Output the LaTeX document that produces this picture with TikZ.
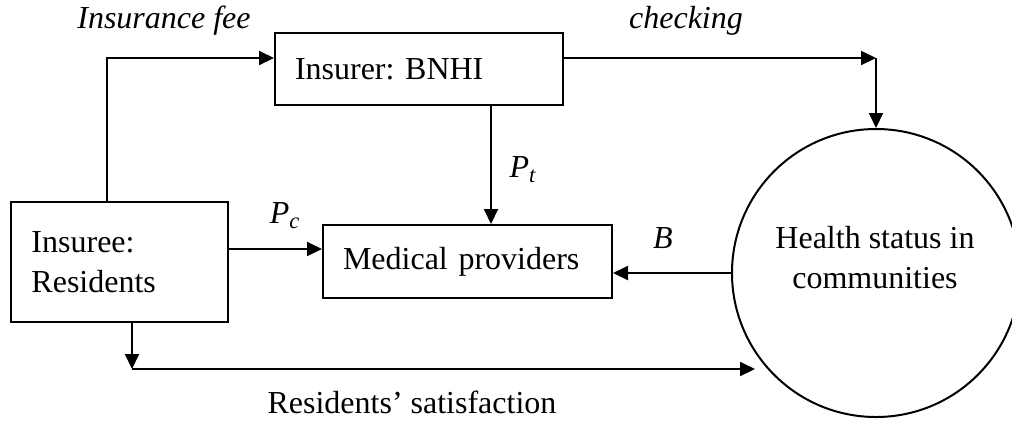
\documentclass[tikz,border=0pt]{standalone}
\usepackage{fontspec}
\setmainfont{Liberation Serif}
\usetikzlibrary{arrows.meta}
\begin{document}
\frenchspacing
\begin{tikzpicture}[x=0.5pt,y=-0.5pt,
  every node/.style={font=\fontsize{16}{20}\selectfont},
  box/.style={draw, line width=1pt, inner sep=0pt, align=left},
  arr/.style={line width=1pt, -{Triangle[length=7.5pt,width=7pt]}},
  lbl/.style={font=\fontsize{16}{20}\selectfont\itshape, inner sep=0pt}]
\useasboundingbox (0,0) rectangle (1012,420);
\node[box, minimum width=144pt, minimum height=36pt, text width=124pt] (insurer) at (419,69) {Insurer: BNHI};
\node[box, minimum width=108.5pt, minimum height=60pt, text width=88pt] (insuree) at (119.5,262) {Insuree:\\Residents};
\node[box, minimum width=144.5pt, minimum height=36.5pt, text width=124.5pt] (med) at (467.5,261.5) {Medical providers};
\node[draw, circle, line width=1pt, minimum size=144pt, inner sep=0pt] (hs) at (876,273) {};
\node[align=center, inner sep=0pt] (hstext) at (875,258) {Health status in\\communities};
\coordinate (c1) at (107,58);
\coordinate (c2) at (876,58);
\coordinate (c3) at (491,0);
\coordinate (c4) at (132,369);
\coordinate (c5) at (755,369);
\coordinate (c6) at (0,249);
\draw[arr] (insuree.north -| c1) |- (insurer.west |- c1);
\draw[arr] (insurer.east |- c1) -- (c2);
\draw[arr] (c2) -- (hs.north);
\draw[arr] (insurer.south -| c3) -- (med.north -| c3);
\draw[arr] (insuree.east |- c6) -- (med.west |- c6);
\draw[arr] (hs.west) -- (med.east |- hs.west);
\draw[arr] (insuree.south -| c4) -- (c4);
\draw[arr] (c4) -- (c5);
\node[lbl] (fee) at (164,21) {Insurance fee};
\node[lbl] (chk) at (686,21) {checking};
\node[lbl] (pt) at (523,170) {P\textsubscript{t}};
\node[lbl] (pc) at (285,216) {P\textsubscript{c}};
\node[lbl] (b) at (663,238) {B};
\node[inner sep=0pt] (sat) at (412,402) {Residents’ satisfaction};
\end{tikzpicture}
\end{document}
